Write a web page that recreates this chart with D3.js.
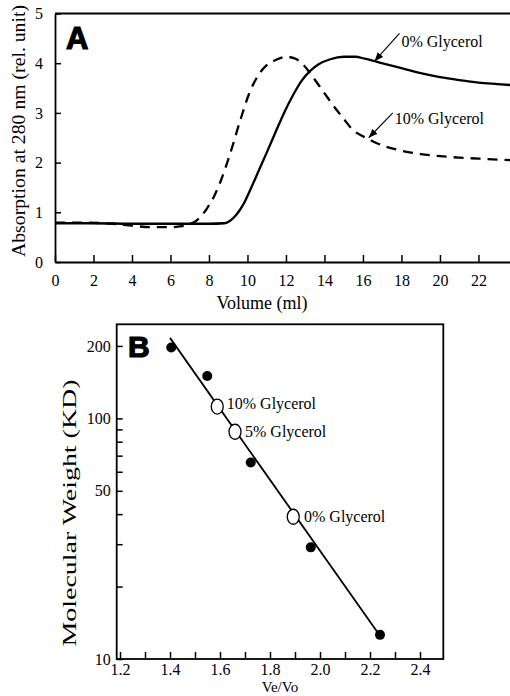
<!DOCTYPE html>
<html lang="en">
<head>
	<meta charset="UTF-8">
	<title>Gel filtration</title>
	<script src="https://d3js.org/d3.v7.min.js"></script>
	<style>
		body{ margin:0; background:#fff; }
		.axis path, .axis line{ stroke:#000; }
	</style>
</head>
<body>
<div id="chart"></div>
<script>
// ---- panel A: elution profiles (volume ml, absorption) ----
const vol0 = [0,2,4,6,8,8.8,9.1,9.4,9.8,10.2,10.6,11.0,11.5,11.9,12.4,12.8,13.3,13.7,14.3,15.0,15.6,16.1,16.7,18,19,20,21,22,23,23.7];
const abs0 = [0.78,0.78,0.77,0.77,0.77,0.78,0.83,0.94,1.17,1.5,1.85,2.2,2.65,3.0,3.38,3.64,3.86,3.98,4.08,4.13,4.13,4.09,4.03,3.9,3.8,3.72,3.66,3.61,3.58,3.56];
const vol10 = [0,1.5,3,4,5,6,6.6,7.0,7.4,7.9,8.3,8.6,9.1,9.6,10.1,10.6,11.0,11.5,12.0,12.5,12.9,13.4,13.9,14.4,15.0,15.5,16.0,16.5,17.2,18,19,20,21,22,23,23.7];
const abs10 = [0.79,0.79,0.77,0.73,0.70,0.70,0.72,0.76,0.85,1.08,1.35,1.62,2.18,2.82,3.4,3.78,3.96,4.07,4.13,4.09,3.97,3.72,3.45,3.18,2.88,2.65,2.53,2.43,2.32,2.24,2.17,2.13,2.10,2.08,2.06,2.05];
const xTicksA = [0,2,4,6,8,10,12,14,16,18,20,22];
const yTicksA = [0,1,2,3,4,5];
// annotation: label, label pos, arrow tail, arrow tip (data units)
const notesA = [
	{label:"0% Glycerol", lx:18.0, ly:4.33, tx:17.9, ty:4.6, hx:16.6, hy:4.04},
	{label:"10% Glycerol", lx:17.65, ly:2.78, tx:17.55, ty:3.0, hx:16.3, hy:2.5}
];

// ---- panel B: calibration (Ve/Vo, molecular weight kD) ----
const stdRatio = [1.405,1.549,1.723,1.963,2.24];
const stdMW = [197,150,65.5,29.1,12.6];
const sampleLabels = ["10% Glycerol","5% Glycerol","0% Glycerol"];
const sampleRatio = [1.589,1.66,1.893];
const sampleMW = [112,88,39];
const labelRatio = [1.627,1.70,1.936];
const labelMW = [109.4,83.7,37.1];
const fitRatio = [1.40,2.237];
const fitMW = [216,12.6];
const xTicksB = [1.2,1.3,1.4,1.5,1.6,1.7,1.8,1.9,2.0,2.1,2.2,2.3,2.4];
const xLabelsB = [1.2,1.4,1.6,1.8,2.0,2.2,2.4];
const yTicksB = [10,20,30,40,50,60,70,80,90,100,200];
const yLabelsB = [10,50,100,200];

const serif='"Liberation Serif","Times New Roman",Times,serif';
const width=510, height=696;
const svg=d3.select('#chart').append('svg')
	.attr('width',width).attr('height',height);

svg.append('defs').append('marker')
	.attr('id','arrow').attr('viewBox','0 0 10 10')
	.attr('refX',10).attr('refY',5)
	.attr('markerWidth',9).attr('markerHeight',9)
	.attr('markerUnits','userSpaceOnUse')
	.attr('orient','auto')
	.append('path').attr('d','M0,1 L10,5 L0,9 Z').attr('fill','#000');

// ======= panel A =======
const xA=d3.scaleLinear().domain([0,23.64]).range([55,510]);
const yA=d3.scaleLinear().domain([0,5]).range([262,13.5]);

const gA=svg.append('g');
gA.append('g').attr('class','axis')
	.attr('transform','translate(0,262)')
	.call(d3.axisBottom(xA).tickValues(xTicksA).tickSizeInner(-7).tickSizeOuter(0).tickPadding(12.5).tickFormat(d3.format('d')))
	.call(g=>g.selectAll('text').style('font-size','16px'))
	.call(g=>g.select('.domain').attr('stroke-width',1.8))
	.call(g=>g.selectAll('.tick line').attr('stroke-width',1.5));
gA.append('g').attr('class','axis')
	.attr('transform','translate(55,0)')
	.call(d3.axisLeft(yA).tickValues(yTicksA).tickSizeInner(-6).tickSizeOuter(0).tickPadding(12).tickFormat(d3.format('d')))
	.call(g=>g.selectAll('text').style('font-size','16px'))
	.call(g=>g.select('.domain').attr('stroke-width',1.8))
	.call(g=>g.selectAll('.tick line').attr('stroke-width',1.5));
// top border
gA.append('line').attr('x1',xA(0)).attr('x2',xA(23.64)).attr('y1',yA(5)).attr('y2',yA(5))
	.attr('stroke','#000').attr('stroke-width',1.8);

const lineA=d3.line().x(d=>xA(d[0])).y(d=>yA(d[1])).curve(d3.curveMonotoneX);
gA.append('path').datum(d3.zip(vol0,abs0)).attr('d',lineA)
	.attr('fill','none').attr('stroke','#000').attr('stroke-width',2.3);
gA.append('path').datum(d3.zip(vol10,abs10)).attr('d',lineA)
	.attr('fill','none').attr('stroke','#000').attr('stroke-width',2.3)
	.attr('stroke-dasharray','10,7');

notesA.forEach(n=>{
	gA.append('line')
		.attr('x1',xA(n.tx)).attr('y1',yA(n.ty))
		.attr('x2',xA(n.hx)).attr('y2',yA(n.hy))
		.attr('stroke','#000').attr('stroke-width',1.1)
		.attr('marker-end','url(#arrow)');
	gA.append('text').attr('x',xA(n.lx)).attr('y',yA(n.ly))
		.style('font-size','16px').text(n.label);
});

gA.append('text').attr('class','tag').attr('x',66).attr('y',49)
	.style('font-size','31px').attr('stroke','#000').attr('stroke-width',1.2).text('A');
gA.append('text').attr('transform','translate(25,131) rotate(-90)')
	.attr('text-anchor','middle').style('font-size','19px')
	.attr('textLength',252).attr('lengthAdjust','spacingAndGlyphs')
	.text('Absorption at 280 nm (rel. unit)');
gA.append('text').attr('x',262).attr('y',309).attr('text-anchor','middle')
	.style('font-size','18px').text('Volume (ml)');

// ======= panel B =======
const xB=d3.scaleLinear().domain([1.1868,2.4932]).range([116.7,443.3]);
const yB=d3.scaleLog().domain([10,246]).range([659,324.3]);

const gB=svg.append('g');
gB.append('rect').attr('x',xB.range()[0]).attr('y',yB.range()[1])
	.attr('width',xB.range()[1]-xB.range()[0]).attr('height',yB.range()[0]-yB.range()[1])
	.attr('fill','none').attr('stroke','#000').attr('stroke-width',1.8);
gB.append('g').attr('class','axis')
	.attr('transform','translate(0,659)')
	.call(d3.axisBottom(xB).tickValues(xTicksB).tickSizeInner(-7).tickSizeOuter(0).tickPadding(5)
		.tickFormat(d=>xLabelsB.some(v=>Math.abs(v-d)<1e-6)?d3.format('.1f')(d):''))
	.call(g=>g.selectAll('text').style('font-size','16px'))
	.call(g=>g.select('.domain').remove())
	.call(g=>g.selectAll('.tick line').attr('stroke-width',1.5));
gB.append('g').attr('class','axis')
	.attr('transform','translate(116.7,0)')
	.call(d3.axisLeft(yB).tickValues(yTicksB).tickSizeInner(-6).tickSizeOuter(0).tickPadding(6)
		.tickFormat(d=>yLabelsB.includes(d)?String(d):''))
	.call(g=>g.selectAll('text').style('font-size','16px'))
	.call(g=>g.select('.domain').remove())
	.call(g=>g.selectAll('.tick line').attr('stroke-width',1.5));

gB.append('path').datum(d3.zip(fitRatio,fitMW))
	.attr('d',d3.line().x(d=>xB(d[0])).y(d=>yB(d[1])))
	.attr('stroke','#000').attr('stroke-width',1.8).attr('fill','none');

gB.selectAll('circle.std').data(d3.zip(stdRatio,stdMW)).enter()
	.append('circle').attr('class','std')
	.attr('cx',d=>xB(d[0])).attr('cy',d=>yB(d[1])).attr('r',5)
	.attr('fill','#000');
gB.selectAll('ellipse.smp').data(d3.zip(sampleRatio,sampleMW)).enter()
	.append('ellipse').attr('class','smp')
	.attr('cx',d=>xB(d[0])).attr('cy',d=>yB(d[1])).attr('rx',6).attr('ry',7.5)
	.attr('fill','#fff').attr('stroke','#000').attr('stroke-width',1.3);
gB.selectAll('text.smp').data(sampleLabels).enter()
	.append('text').attr('class','smp')
	.attr('x',(d,i)=>xB(labelRatio[i])).attr('y',(d,i)=>yB(labelMW[i]))
	.style('font-size','16px').text(d=>d);

gB.append('text').attr('class','tag').attr('x',128).attr('y',356.5)
	.style('font-size','30px').attr('stroke','#000').attr('stroke-width',1.2).text('B');
gB.append('text').attr('transform','translate(76,513) rotate(-90)')
	.attr('text-anchor','middle').style('font-size','19px')
	.attr('textLength',267).attr('lengthAdjust','spacingAndGlyphs')
	.text('Molecular Weight (KD)');
gB.append('text').attr('x',280).attr('y',692).attr('text-anchor','middle')
	.style('font-size','15px').text('Ve/Vo');

// fonts: serif everywhere except the panel tags
svg.selectAll('text').style('font-family',serif).attr('fill','#000');
svg.selectAll('text.tag').style('font-family','"Liberation Sans",Arial,sans-serif').style('font-weight','bold');
</script>
</body>
</html>
